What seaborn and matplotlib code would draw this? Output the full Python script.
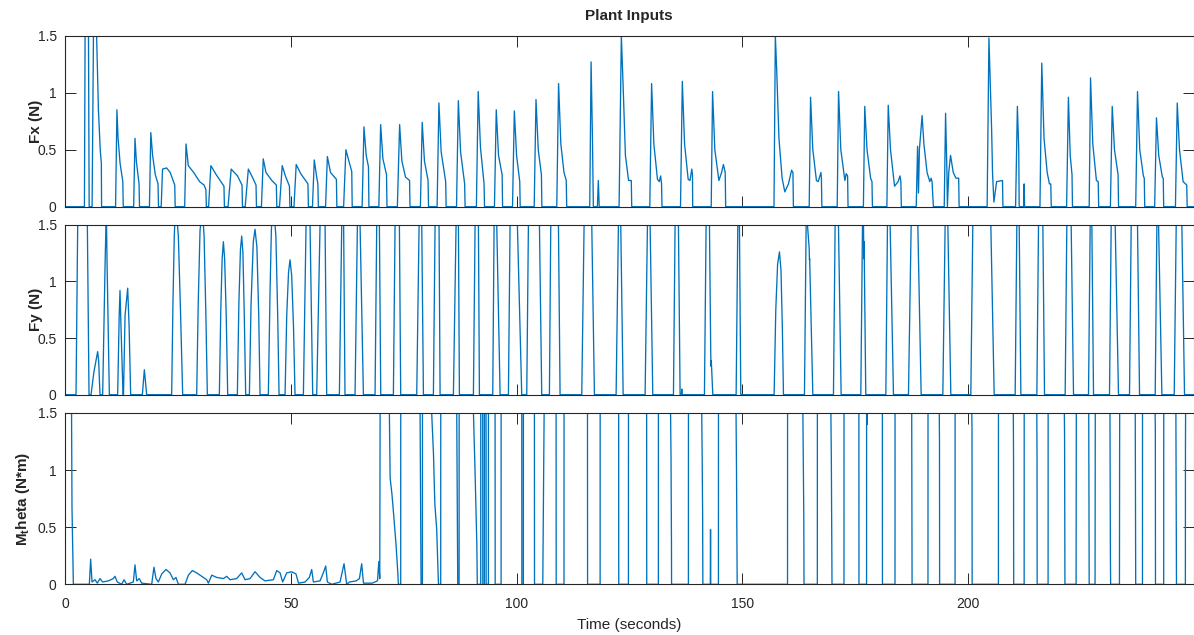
import matplotlib
matplotlib.use("Agg")
import matplotlib.pyplot as plt
import seaborn as sns
import pandas as pd

# ---------------- data ----------------
# Fx (N): (time, value) breakpoints, one pulse per line
fx_points = [
    (0, 0), (4.3, 0), (4.45, 1.5), (5.2, 1.5), (5.35, 0),
    (6.0, 0), (6.3, 1.5), (7.0, 1.5), (7.4, 0.85), (7.8, 0.5), (8.05, 0.38), (8.1, 0),
    (11.2, 0), (11.5, 0.85), (11.75, 0.6), (12.2, 0.38), (12.8, 0.22), (12.9, 0),
    (15.2, 0), (15.5, 0.6), (15.8, 0.4), (16.4, 0.2), (16.5, 0),
    (18.7, 0), (19.0, 0.65), (19.4, 0.45), (20.0, 0.28), (20.6, 0.2), (20.7, 0),
    (21.3, 0), (21.6, 0.33), (22.5, 0.34), (23.3, 0.3), (24.3, 0.19), (24.4, 0),
    (26.5, 0), (26.8, 0.55), (27.3, 0.36), (28.5, 0.3), (29.8, 0.22), (30.8, 0.19), (31.2, 0.15), (31.3, 0),
    (31.8, 0), (32.3, 0.36), (33.5, 0.28), (35.2, 0.18), (35.3, 0),
    (36.1, 0), (36.8, 0.33), (38.2, 0.27), (39.2, 0.19), (39.3, 0),
    (39.9, 0), (40.6, 0.33), (41.6, 0.25), (42.3, 0.19), (42.4, 0),
    (43.5, 0), (43.9, 0.42), (44.5, 0.3), (45.8, 0.23), (46.8, 0.19), (46.9, 0),
    (47.5, 0), (48.1, 0.36), (48.8, 0.27), (49.7, 0.18), (49.8, 0),
    (50.7, 0), (51.2, 0.37), (52.2, 0.29), (53.8, 0.2), (53.9, 0),
    (54.8, 0), (55.2, 0.41), (55.7, 0.27), (56.0, 0.2), (56.1, 0),
    (57.7, 0), (58.1, 0.44), (58.8, 0.3), (60.1, 0.24), (60.2, 0),
    (61.7, 0), (62.2, 0.5), (63.0, 0.38), (63.5, 0.31), (63.6, 0),
    (65.8, 0), (66.2, 0.7), (66.7, 0.45), (67.2, 0.35), (67.3, 0),
    (69.5, 0), (69.9, 0.72), (70.4, 0.42), (71.2, 0.28), (71.3, 0),
    (73.6, 0), (74.1, 0.72), (74.6, 0.4), (75.4, 0.26), (76.3, 0.23), (76.4, 0),
    (78.7, 0), (79.1, 0.74), (79.6, 0.4), (80.4, 0.23), (80.5, 0),
    (82.4, 0), (82.8, 0.91), (83.3, 0.48), (84.3, 0.22), (84.4, 0),
    (86.7, 0), (87.1, 0.93), (87.6, 0.48), (88.5, 0.2), (88.6, 0),
    (91.1, 0), (91.5, 1.01), (92.0, 0.52), (92.8, 0.2), (92.9, 0),
    (95.1, 0), (95.5, 0.85), (96.0, 0.45), (96.8, 0.28), (96.9, 0),
    (99.1, 0), (99.5, 0.84), (100.0, 0.45), (100.7, 0.22), (100.8, 0),
    (103.9, 0), (104.3, 0.94), (104.8, 0.5), (105.5, 0.28), (105.6, 0),
    (108.9, 0), (109.3, 1.08), (109.8, 0.55), (110.5, 0.3), (111.0, 0.23), (111.1, 0),
    (116.2, 0), (116.5, 1.27), (116.8, 0.6), (117.0, 0),
    (117.9, 0), (118.1, 0.23), (118.3, 0),
    (122.7, 0), (123.2, 1.5), (123.6, 1.05), (124.1, 0.45), (124.8, 0.23), (125.4, 0.23), (125.5, 0),
    (129.5, 0), (129.9, 1.08), (130.4, 0.55), (131.2, 0.24), (131.6, 0.22), (131.9, 0.27), (132.1, 0.2), (132.2, 0),
    (136.3, 0), (136.7, 1.1), (137.2, 0.55), (138.0, 0.24), (138.4, 0.23), (138.8, 0.33), (138.95, 0.28), (139.0, 0),
    (143.1, 0), (143.4, 1.01), (143.9, 0.5), (144.8, 0.23), (145.4, 0.3), (145.8, 0.37), (146.2, 0.3), (146.3, 0),
    (157.0, 0), (157.3, 1.5), (157.6, 1.2), (158.1, 0.6), (158.8, 0.25), (159.4, 0.13), (160.2, 0.2), (160.9, 0.32), (161.2, 0.3), (161.3, 0),
    (164.8, 0), (165.1, 0.96), (165.6, 0.5), (166.4, 0.23), (166.8, 0.22), (167.4, 0.3), (167.5, 0.25), (167.6, 0),
    (171.0, 0), (171.3, 1.01), (171.8, 0.5), (172.7, 0.23), (173.0, 0.29), (173.3, 0.27), (173.4, 0),
    (176.8, 0), (177.1, 0.88), (177.6, 0.5), (178.4, 0.25), (178.7, 0.22), (178.8, 0),
    (182.0, 0), (182.3, 0.89), (182.8, 0.5), (183.7, 0.18), (184.5, 0.22), (184.9, 0.27), (185.1, 0.22), (185.2, 0),
    (188.5, 0), (188.8, 0.53), (189.0, 0.12), (189.2, 0.5), (189.8, 0.8), (190.2, 0.55), (190.9, 0.3), (191.5, 0.22), (191.8, 0.25), (192.0, 0.22), (192.3, 0),
    (194.7, 0), (195.0, 0.82), (195.3, 0.3), (195.4, 0), (195.7, 0.3), (196.1, 0.45), (196.7, 0.3), (197.3, 0.25), (197.9, 0.25), (198.0, 0),
    (204.2, 0), (204.6, 1.48), (204.8, 1.2), (205.2, 0.67), (205.4, 0.29), (205.7, 0.04), (206.3, 0.22), (207.6, 0.23), (207.7, 0),
    (210.5, 0), (210.9, 0.88), (211.2, 0.5), (211.3, 0),
    (212.3, 0), (212.4, 0.2), (212.5, 0),
    (215.9, 0), (216.3, 1.26), (216.8, 0.6), (217.5, 0.3), (218.0, 0.2), (218.3, 0.2), (218.4, 0),
    (221.8, 0), (222.2, 0.96), (222.6, 0.45), (223.0, 0.28), (223.1, 0),
    (226.8, 0), (227.1, 1.13), (227.6, 0.55), (228.4, 0.23), (228.8, 0.22), (228.9, 0),
    (231.5, 0), (231.9, 0.88), (232.4, 0.5), (233.2, 0.28), (233.3, 0),
    (237.1, 0), (237.5, 1.01), (238.0, 0.5), (238.8, 0.27), (239.0, 0.25), (239.1, 0),
    (241.3, 0), (241.7, 0.78), (242.2, 0.45), (243.0, 0.26), (243.2, 0.25), (243.3, 0),
    (245.9, 0), (246.3, 0.91), (246.8, 0.5), (247.6, 0.22), (248.4, 0.19), (248.5, 0), (249.9, 0),
]

# Fy (N)
fy_points = [
    (0, 0), (2.44, 0), (2.81, 1.5), (4.95, 1.5), (5.32, 0),
    (5.76, 0), (6.4, 0.2), (7.23, 0.38), (7.45, 0.3), (7.75, 0),
    (8.34, 0), (8.9, 1.2), (9.08, 1.5), (9.2, 1.5), (9.3, 1.2), (9.82, 0),
    (11.66, 0), (12.0, 0.7), (12.18, 0.92), (12.4, 0.6), (12.85, 0),
    (12.95, 0), (13.3, 0.7), (13.88, 0.94), (14.2, 0.6), (14.54, 0),
    (17.13, 0), (17.57, 0.22), (18.09, 0),
    (23.62, 0), (23.9, 0.8), (24.2, 1.4), (24.3, 1.5), (24.9, 1.5), (25.1, 1.4), (25.6, 0.7), (26.06, 0),
    (29.16, 0), (29.5, 0.8), (29.9, 1.45), (30.05, 1.5), (30.64, 1.5), (30.8, 1.4), (31.2, 0.7), (31.52, 0),
    (34.18, 0), (34.5, 0.75), (34.8, 1.2), (35.07, 1.35), (35.35, 1.2), (35.7, 0.7), (36.03, 0),
    (38.17, 0), (38.5, 0.8), (38.85, 1.28), (39.13, 1.4), (39.4, 1.25), (39.7, 0.7), (40.01, 0),
    (40.83, 0), (41.2, 0.8), (41.7, 1.35), (42.08, 1.46), (42.5, 1.3), (42.9, 0.7), (43.19, 0),
    (45.03, 0), (45.4, 0.9), (45.7, 1.45), (45.77, 1.5), (46.51, 1.5), (46.7, 1.4), (47.1, 0.7), (47.4, 0),
    (48.73, 0), (49.1, 0.7), (49.5, 1.08), (49.83, 1.19), (50.2, 1.05), (50.6, 0.6), (50.94, 0),
    (52.79, 0), (53.38, 1.5), (54.26, 1.5), (54.85, 0),
    (55.74, 0), (56.48, 1.5), (57.59, 1.5), (57.95, 0),
    (60.76, 0), (61.28, 1.5), (61.7, 1.5), (62.0, 0),
    (64.23, 0), (64.75, 1.5), (65.34, 1.5), (66.08, 0),
    (68.66, 0), (69.03, 1.5), (69.62, 1.5), (69.92, 0),
    (72.72, 0), (73.09, 1.5), (74.05, 1.5), (74.34, 0),
    (77.89, 0), (78.41, 1.5), (79.0, 1.5), (79.37, 0),
    (81.58, 0), (81.95, 1.5), (82.83, 1.5), (83.06, 0),
    (86.01, 0), (86.6, 1.5), (87.12, 1.5), (87.34, 0),
    (90.44, 0), (90.81, 1.5), (91.55, 1.5), (91.77, 0),
    (94.72, 0), (95.02, 1.5), (95.61, 1.5), (96.35, 0),
    (98.19, 0), (98.56, 1.5), (100.18, 1.5), (101.14, 0),
    (102.25, 0), (102.62, 1.5), (105.06, 1.5), (105.57, 0),
    (107.27, 0), (107.57, 1.5), (109.27, 1.5), (109.63, 0),
    (114.43, 0), (114.95, 1.5), (116.65, 1.5), (117.24, 0),
    (122.04, 0), (122.55, 1.5), (123.07, 1.5), (123.6, 0),
    (128.46, 0), (128.98, 1.5), (129.57, 1.5), (130.16, 0),
    (134.74, 0), (135.1, 1.5), (135.84, 1.5), (136.21, 0), (136.5, 0), (136.58, 0.05), (136.66, 0),
    (141.6, 0), (141.97, 1.5), (142.71, 1.5), (143.0, 0.35), (143.08, 0.25), (143.12, 0.3), (143.45, 0),
    (148.62, 0), (148.99, 1.5), (149.35, 1.5), (149.65, 0),
    (157.03, 0), (157.4, 0.75), (157.8, 1.15), (158.21, 1.26), (158.55, 1.1), (158.85, 0.6), (159.1, 0),
    (163.75, 0), (164.12, 1.5), (164.41, 1.5), (164.8, 1.29), (164.85, 1.19), (164.9, 1.2), (165.6, 0),
    (170.17, 0), (170.54, 1.5), (171.28, 1.5), (171.87, 0),
    (176.23, 0), (176.6, 1.5), (176.82, 1.5), (176.9, 1.2), (176.95, 1.35), (177.0, 1.2), (177.33, 0),
    (181.77, 0), (182.13, 1.5), (182.72, 1.5), (183.46, 0),
    (186.78, 0), (187.38, 1.5), (188.85, 1.5), (189.59, 0),
    (194.39, 0), (194.9, 1.5), (195.5, 1.5), (196.16, 0),
    (200.59, 0), (201.03, 1.5), (205.02, 1.5), (205.76, 0),
    (210.41, 0), (210.78, 1.5), (211.3, 1.5), (211.67, 0),
    (215.21, 0), (215.58, 1.5), (216.54, 1.5), (216.91, 0),
    (221.48, 0), (221.85, 1.5), (222.81, 1.5), (223.33, 0),
    (226.65, 0), (227.02, 1.5), (227.39, 1.5), (227.76, 0),
    (231.3, 0), (231.67, 1.5), (232.56, 1.5), (233.29, 0),
    (235.73, 0), (236.1, 1.5), (237.5, 1.5), (237.95, 0),
    (241.42, 0), (241.79, 1.5), (242.16, 1.5), (242.9, 0),
    (245.63, 0), (246.07, 1.5), (247.32, 1.5), (247.91, 0), (249.9, 0),
]

# M_theta (N*m)
mt_points = [
    (0, 1.5), (1.45, 1.5), (1.55, 0.67), (1.85, 0),
    (5.39, 0), (5.68, 0.22), (5.98, 0.02), (6.64, 0.04), (7.16, 0.01), (7.75, 0.05), (8.34, 0.02),
    (9.6, 0.03), (10.7, 0.05), (11.07, 0.07), (11.59, 0.02), (12.55, 0.0), (13.07, 0.04), (13.66, 0.0),
    (15.13, 0.02), (15.5, 0.17), (15.87, 0.03), (16.46, 0.05), (16.98, 0.01), (19.2, 0.0), (19.7, 0.15),
    (20.15, 0.05), (20.67, 0.02), (21.41, 0.09), (22.37, 0.13), (23.25, 0.1), (24.0, 0.04), (24.58, 0.06),
    (25.1, 0.0), (26.58, 0.0), (27.32, 0.08), (28.2, 0.12), (29.16, 0.1), (29.9, 0.08), (30.64, 0.06),
    (31.38, 0.04), (31.75, 0.01), (32.5, 0.08), (33.6, 0.06), (35.07, 0.05), (35.8, 0.07), (36.55, 0.04),
    (38.0, 0.05), (39.13, 0.1), (39.87, 0.04), (40.98, 0.05), (42.08, 0.11), (43.19, 0.06), (44.3, 0.03),
    (46.14, 0.04), (46.88, 0.12), (47.62, 0.1), (48.2, 0.02), (49.1, 0.1), (50.2, 0.11), (51.16, 0.09),
    (51.7, 0.01), (53.15, 0.02), (54.11, 0.06), (54.63, 0.13), (55.0, 0.02), (56.48, 0.03), (57.2, 0.1),
    (57.73, 0.16), (58.1, 0.02), (59.06, 0.0), (60.91, 0.02), (61.79, 0.18), (62.38, 0.0), (63.0, 0.02),
    (64.5, 0.03), (65.2, 0.05), (65.7, 0.18), (66.1, 0.01), (68.0, 0.01), (69.2, 0.03), (69.5, 0.2), (69.7, 0.05),
    (69.78, 1.5), (71.83, 1.5), (72.0, 0.93), (72.4, 0.79), (72.8, 0.6), (73.3, 0.35), (73.7, 0.1), (73.83, 0),
    (74.34, 0), (74.35, 1.5), (78.63, 1.5), (78.85, 0),
    (79.15, 0), (79.16, 1.5), (81.2, 1.5), (81.6, 1.14), (81.9, 0.7), (82.3, 0.49), (82.7, 0),
    (83.2, 0), (83.21, 1.5), (86.75, 1.5), (86.97, 0),
    (87.27, 0), (87.28, 1.5), (90.45, 1.5), (90.8, 0.99), (91.2, 0.35), (91.3, 0),
    (92.06, 0), (92.07, 1.5), (92.5, 1.5), (92.52, 0), (92.87, 0), (92.88, 1.5), (93.24, 1.5), (93.26, 0),
    (93.76, 0), (93.77, 1.5), (95.24, 1.5), (95.26, 0),
    (96.57, 0), (96.58, 1.5), (101.15, 1.5), (101.17, 0),
    (101.5, 0), (101.51, 1.5), (103.95, 1.5), (103.97, 0),
    (105.8, 0), (106.1, 1.5), (108.75, 1.5), (108.77, 0),
    (110.5, 0), (110.51, 1.5), (115.7, 1.5), (115.72, 0),
    (118.5, 0), (118.51, 1.5), (122.6, 1.5), (122.62, 0),
    (124.77, 0), (124.78, 1.5), (128.8, 1.5), (128.82, 0),
    (131.4, 0), (131.41, 1.5), (134.1, 1.5), (134.2, 1.1), (134.3, 0.35), (134.32, 0),
    (138.05, 0), (138.06, 1.5), (141.0, 1.5), (141.1, 1.1), (141.2, 0.6), (141.25, 0),
    (142.9, 0), (142.95, 0.48), (143.0, 0),
    (144.7, 0), (144.71, 1.5), (148.6, 1.5), (148.7, 1.0), (148.8, 0.25), (148.85, 0),
    (160.0, 0), (160.01, 1.5), (163.4, 1.5), (163.5, 1.0), (163.6, 0.6), (163.65, 0),
    (166.6, 0), (166.61, 1.5), (169.6, 1.5), (169.7, 1.1), (169.8, 0.45), (169.85, 0),
    (172.5, 0), (172.51, 1.5), (175.8, 1.5), (175.82, 0),
    (177.5, 0), (177.51, 1.5), (177.6, 1.4), (177.65, 1.5), (181.0, 1.5), (181.02, 0),
    (183.8, 0), (183.81, 1.5), (187.5, 1.5), (187.55, 0.5), (187.58, 0),
    (191.1, 0), (191.11, 1.5), (193.6, 1.5), (193.65, 1.25), (193.68, 0),
    (197.1, 0), (197.11, 1.5), (200.8, 1.5), (200.85, 1.35), (200.88, 0),
    (206.7, 0), (206.71, 1.5), (210.0, 1.5), (210.05, 1.1), (210.08, 0),
    (212.4, 0), (212.41, 1.5), (215.2, 1.5), (215.25, 1.1), (215.28, 0),
    (217.7, 0), (217.71, 1.5), (221.3, 1.5), (221.35, 1.3), (221.4, 0.25), (221.43, 0),
    (223.9, 0), (223.92, 0.7), (223.95, 1.5), (226.7, 1.5), (226.75, 0.85), (226.8, 0),
    (228.1, 0), (228.12, 0.7), (228.15, 1.5), (231.4, 1.5), (231.45, 0.7), (231.5, 0.25), (231.55, 0),
    (233.5, 0), (233.52, 0.9), (233.55, 1.5), (237.0, 1.5), (237.05, 0.7), (237.1, 0),
    (238.6, 0), (238.61, 1.5), (241.4, 1.5), (241.45, 1.35), (241.48, 0),
    (243.3, 0), (243.31, 1.5), (246.0, 1.5), (246.05, 0.95), (246.1, 0.6), (246.13, 0),
    (248.1, 0), (248.12, 1.2), (248.15, 1.5), (249.9, 1.5),
]

y_ticks = [0, 0.5, 1, 1.5]
y_tick_labels = ["0", "0.5", "1", "1.5"]
x_ticks = [0, 50, 100, 150, 200]
x_tick_labels = ["0", "50", "100", "150", "200"]
panel_labels = ["Fx (N)", "Fy (N)", r"$\mathbf{M_t}$heta (N*m)"]
title_text = "Plant Inputs"
xlabel_text = "Time (seconds)"

# ---------------- style ----------------
sns.set_style("ticks")
plt.rcParams["font.family"] = ["Liberation Sans", "DejaVu Sans"]
plt.rcParams["mathtext.fontset"] = "custom"
plt.rcParams["mathtext.rm"] = "Liberation Sans"
plt.rcParams["mathtext.bf"] = "Liberation Sans:bold"
plt.rcParams["mathtext.it"] = "Liberation Sans:italic"

LINE = "#0072BD"
AXC = "#262626"

W, H = 1194, 635
fig = plt.figure(figsize=(W / 100, H / 100), dpi=100)
left_px, right_px = 65, 1193.5
panels_px = [(35.7, 206.7), (224.7, 394.7), (413.0, 584.3)]
label_x = [-0.0195, -0.0195, -0.029]

series = [fx_points, fy_points, mt_points]
axes = []
for i, ((top, bot), pts) in enumerate(zip(panels_px, series)):
    ax = fig.add_axes([left_px / W, 1 - bot / H, (right_px - left_px) / W, (bot - top) / H])
    df = pd.DataFrame(pts, columns=["t", "v"])
    sns.lineplot(data=df, x="t", y="v", ax=ax, estimator=None, sort=False,
                 color=LINE, linewidth=0.95)
    ax.set_xlim(0, 249.9)
    ax.set_ylim(0, 1.5)
    ax.set_yticks(y_ticks)
    ax.set_yticklabels(y_tick_labels)
    ax.set_xticks(x_ticks)
    if i == 2:
        ax.set_xticklabels(x_tick_labels)
        ax.set_xlabel(xlabel_text, fontsize=11, labelpad=5)
    else:
        ax.set_xticklabels([])
        ax.set_xlabel("")
    ax.set_ylabel(panel_labels[i], fontsize=11, fontweight="bold")
    ax.yaxis.set_label_coords(label_x[i], 0.5)
    ax.tick_params(direction="in", top=True, right=True, length=8, width=0.7,
                   labelsize=10, colors=AXC)
    ax.tick_params(axis="y", pad=6)
    ax.tick_params(axis="x", pad=9)
    for s in ax.spines.values():
        s.set_visible(True)
        s.set_color(AXC)
        s.set_linewidth(0.8)
    axes.append(ax)

axes[0].set_title(title_text, fontsize=11, fontweight="bold", pad=11)

fig.savefig("out.png", dpi=100)
